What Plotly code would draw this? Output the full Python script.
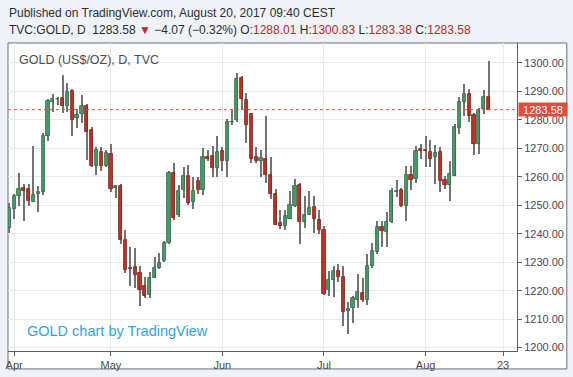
import plotly.graph_objects as go

# ---------------- data ----------------
opens = [1242.1, 1248.8, 1253.4, 1256.0, 1255.8, 1251.3, 1254.1, 1254.5, 1274.5, 1286.4,
         1287.2, 1287.6, 1284.7, 1290.2, 1280.5, 1281.9, 1284.7, 1276.5, 1263.9, 1268.7,
         1263.9, 1268.1, 1256.0, 1256.8, 1237.9, 1228.1, 1228.2, 1226.2, 1221.5, 1218.6,
         1224.5, 1228.0, 1230.5, 1236.9, 1261.3, 1246.7, 1255.2, 1260.4, 1251.0, 1258.4,
         1255.2, 1266.9, 1267.4, 1263.1, 1269.1, 1265.7, 1279.1, 1280.0, 1294.6, 1287.0,
         1282.1, 1266.8, 1265.4, 1266.3, 1260.7, 1254.0, 1243.8, 1242.6, 1245.3, 1249.9,
         1257.0, 1244.0, 1246.7, 1249.4, 1244.9, 1241.4, 1220.4, 1223.6, 1227.0, 1224.8,
         1212.7, 1213.9, 1216.6, 1219.2, 1216.6, 1228.5, 1233.6, 1242.4, 1240.6, 1244.1,
         1254.6, 1255.4, 1249.8, 1260.7, 1259.2, 1269.8, 1269.5, 1268.7, 1266.9, 1268.7,
         1258.7, 1257.0, 1260.4, 1277.1, 1286.4, 1289.1, 1281.8, 1271.5, 1283.8, 1288.01]
highs = [1250.9, 1254.0, 1261.3, 1257.5, 1257.5, 1270.9, 1256.6, 1275.4, 1287.3, 1289.1,
         1288.0, 1295.8, 1292.9, 1291.0, 1283.9, 1288.8, 1285.5, 1277.5, 1270.6, 1270.3,
         1269.5, 1271.6, 1257.0, 1257.3, 1241.4, 1235.5, 1235.0, 1228.5, 1224.8, 1226.5,
         1231.8, 1233.3, 1237.3, 1262.0, 1265.0, 1257.0, 1263.6, 1264.1, 1260.1, 1260.1,
         1270.1, 1269.5, 1270.9, 1274.2, 1270.4, 1280.2, 1283.8, 1296.4, 1295.4, 1289.4,
         1282.3, 1270.6, 1269.5, 1281.4, 1267.1, 1255.7, 1248.4, 1248.2, 1255.1, 1259.2,
         1257.8, 1253.3, 1254.9, 1253.3, 1248.2, 1242.8, 1226.8, 1228.8, 1229.4, 1228.8,
         1215.9, 1218.2, 1225.8, 1224.5, 1232.9, 1236.8, 1244.6, 1244.3, 1247.6, 1256.0,
         1259.0, 1256.0, 1263.9, 1263.9, 1270.9, 1271.6, 1274.2, 1273.0, 1271.2, 1270.4,
         1260.4, 1265.7, 1278.5, 1288.2, 1292.6, 1290.8, 1282.3, 1284.1, 1290.5, 1300.83]
lows = [1240.4, 1245.0, 1249.6, 1244.3, 1249.9, 1251.0, 1247.5, 1253.5, 1272.4, 1282.6,
        1285.3, 1282.3, 1282.9, 1274.5, 1277.2, 1278.9, 1266.0, 1263.3, 1260.7, 1262.2,
        1263.3, 1254.8, 1252.5, 1236.5, 1226.2, 1221.5, 1221.0, 1214.5, 1217.4, 1217.4,
        1224.3, 1227.5, 1230.0, 1236.5, 1244.8, 1245.9, 1252.5, 1250.0, 1248.7, 1254.0,
        1253.7, 1265.7, 1260.1, 1260.1, 1262.2, 1259.9, 1278.2, 1279.4, 1283.3, 1272.0,
        1265.0, 1265.0, 1259.9, 1257.8, 1252.2, 1243.0, 1241.6, 1241.2, 1245.0, 1249.5,
        1236.5, 1242.0, 1246.5, 1240.2, 1239.9, 1218.6, 1218.0, 1217.8, 1222.9, 1207.5,
        1204.9, 1208.7, 1213.9, 1216.0, 1215.1, 1228.0, 1233.0, 1235.3, 1235.5, 1243.8,
        1253.0, 1249.5, 1244.3, 1255.2, 1257.8, 1266.3, 1263.3, 1263.6, 1257.5, 1254.8,
        1255.8, 1251.6, 1260.2, 1275.0, 1281.5, 1279.1, 1267.5, 1268.1, 1282.1, 1283.38]
closes = [1249.1, 1253.4, 1255.7, 1255.1, 1251.6, 1253.7, 1254.7, 1274.5, 1286.7, 1287.4,
          1287.5, 1284.7, 1289.9, 1279.8, 1281.8, 1284.7, 1275.6, 1263.9, 1269.5, 1263.9,
          1268.3, 1255.8, 1256.6, 1237.7, 1227.1, 1227.5, 1225.6, 1220.4, 1218.2, 1224.5,
          1228.0, 1229.7, 1236.8, 1261.3, 1245.5, 1255.1, 1260.4, 1250.8, 1254.9, 1255.2,
          1267.1, 1266.4, 1263.1, 1268.7, 1265.4, 1279.4, 1279.4, 1294.3, 1287.3, 1278.2,
          1266.2, 1265.7, 1266.7, 1260.5, 1253.9, 1243.2, 1242.6, 1246.3, 1250.2, 1256.6,
          1244.0, 1246.7, 1249.0, 1245.3, 1241.2, 1218.8, 1223.9, 1227.0, 1224.7, 1212.4,
          1213.6, 1217.4, 1219.4, 1216.6, 1228.8, 1234.1, 1242.4, 1240.8, 1244.1, 1255.1,
          1255.1, 1249.6, 1260.7, 1258.9, 1269.1, 1269.1, 1268.9, 1266.2, 1268.3, 1258.4,
          1257.2, 1260.9, 1277.4, 1286.2, 1289.1, 1281.5, 1271.5, 1283.2, 1288.0, 1283.58]

tick_index = [1, 21, 44, 65, 86, 102]
tick_labels = ["Apr", "May", "Jun", "Jul", "Aug", "23"]

header_line1 = "Published on TradingView.com, August 20, 2017 09:40 CEST"
symbol = "TVC:GOLD, D"
change = "\u22124.07 (\u22120.32%)"
legend_title = "GOLD (US$/OZ), D, TVC"
watermark = "GOLD chart by TradingView"

# ---------------- styling ----------------
W, H = 573, 377
ML, MR, MT, MB = 6, 56, 43, 25
PW, PH = W - ML - MR, H - MT - MB

def px(x):
    return (x - ML) / PW

def py(y):
    return (H - MB - y) / PH

UP_FILL, UP_LINE = "#4f956a", "#2c6744"
DN_FILL, DN_LINE = "#b3372a", "#7a2318"
WICK = "#737373"
RED_TXT = "#c0282d"
FONT = "Liberation Sans, Arial, sans-serif"

idx = list(range(len(opens)))
body_base = [min(o, c) for o, c in zip(opens, closes)]
body_h = [max(abs(c - o), 0.3) for o, c in zip(opens, closes)]
fills = [UP_FILL if c >= o else DN_FILL for o, c in zip(opens, closes)]
edges = [UP_LINE if c >= o else DN_LINE for o, c in zip(opens, closes)]

fig = go.Figure()
# wicks
fig.add_trace(go.Bar(x=idx, y=[h - l for h, l in zip(highs, lows)], base=lows,
                     width=0.22, marker=dict(color=WICK, line=dict(width=0)),
                     hoverinfo="skip", showlegend=False))
# bodies
fig.add_trace(go.Bar(x=idx, y=body_h, base=body_base, width=0.66,
                     marker=dict(color=fills, line=dict(color=edges, width=0.8)),
                     showlegend=False,
                     customdata=list(zip(opens, highs, lows, closes)),
                     hovertemplate="O %{customdata[0]}<br>H %{customdata[1]}<br>L %{customdata[2]}<br>C %{customdata[3]}<extra></extra>"))

last = closes[-1]

fig.update_layout(
    width=W, height=H,
    margin=dict(l=ML, r=MR, t=MT, b=MB, pad=0),
    paper_bgcolor="#eff2f6", plot_bgcolor="#ffffff",
    barmode="overlay", bargap=0,
    font=dict(family=FONT, size=11, color="#4a4a4a"),
    showlegend=False,
    xaxis=dict(range=[-0.27, 104.88], tickmode="array", tickvals=tick_index, ticktext=tick_labels,
               showgrid=True, gridcolor="#ebebeb", gridwidth=1,
               ticks="outside", ticklen=4, tickcolor="#5a5e66",
               showline=True, linecolor="#5a5e66", linewidth=1,
               tickfont=dict(family=FONT, size=11, color="#4a4a4a"),
               zeroline=False, fixedrange=True),
    yaxis=dict(range=[1198.8, 1307.0], side="right", dtick=10, tick0=1200, tickformat=".2f",
               showgrid=True, gridcolor="#ebebeb", gridwidth=1,
               ticks="outside", ticklen=4, tickcolor="#5a5e66",
               showline=True, linecolor="#5a5e66", linewidth=1,
               tickfont=dict(family=FONT, size=11, color="#4a4a4a"),
               zeroline=False, fixedrange=True),
)

# white panel
fig.add_shape(type="rect", xref="paper", yref="paper", x0=px(6), x1=px(567), y0=py(370), y1=py(43),
              fillcolor="#ffffff", line=dict(color="#6a6e76", width=1), layer="below")
# last price dotted line
fig.add_shape(type="line", xref="paper", yref="y", x0=0, x1=1, y0=last, y1=last,
              line=dict(color="#e0533f", width=1, dash="dot"))

ann = []
ann.append(dict(text=header_line1, x=px(5), y=py(12.5), xref="paper", yref="paper",
                xanchor="left", yanchor="middle", showarrow=False,
                font=dict(family=FONT, size=12, color="#2e2e2e")))
line2 = (f"{symbol}  {last:.2f} <span style='color:{RED_TXT}'>\u25BC</span> {change} "
         f"O:<span style='color:{RED_TXT}'>{opens[-1]:.2f}</span> "
         f"H:<span style='color:{RED_TXT}'>{highs[-1]:.2f}</span> "
         f"L:<span style='color:{RED_TXT}'>{lows[-1]:.2f}</span> "
         f"C:<span style='color:{RED_TXT}'>{closes[-1]:.2f}</span>")
ann.append(dict(text=line2, x=px(5), y=py(29.5), xref="paper", yref="paper",
                xanchor="left", yanchor="middle", showarrow=False,
                font=dict(family=FONT, size=12, color="#2e2e2e")))
ann.append(dict(text=legend_title, x=px(15), y=py(60), xref="paper", yref="paper",
                xanchor="left", yanchor="middle", showarrow=False,
                font=dict(family=FONT, size=12.5, color="#4d4d4d")))
ann.append(dict(text=watermark, x=px(23), y=py(331.5), xref="paper", yref="paper",
                xanchor="left", yanchor="middle", showarrow=False,
                font=dict(family=FONT, size=14.5, color="#33a3dc")))
ann.append(dict(text=f"{last:.2f}", x=1, y=last, xref="paper", yref="y",
                xanchor="left", yanchor="middle", showarrow=False, xshift=1,
                width=48, height=13, align="center", bgcolor="#df4f3c", borderpad=0,
                font=dict(family=FONT, size=11, color="#ffffff")))
fig.update_layout(annotations=ann)

fig.write_html("out.html", config={"displayModeBar": False},
               post_script="document.body.style.margin='0';document.body.style.padding='0';")
